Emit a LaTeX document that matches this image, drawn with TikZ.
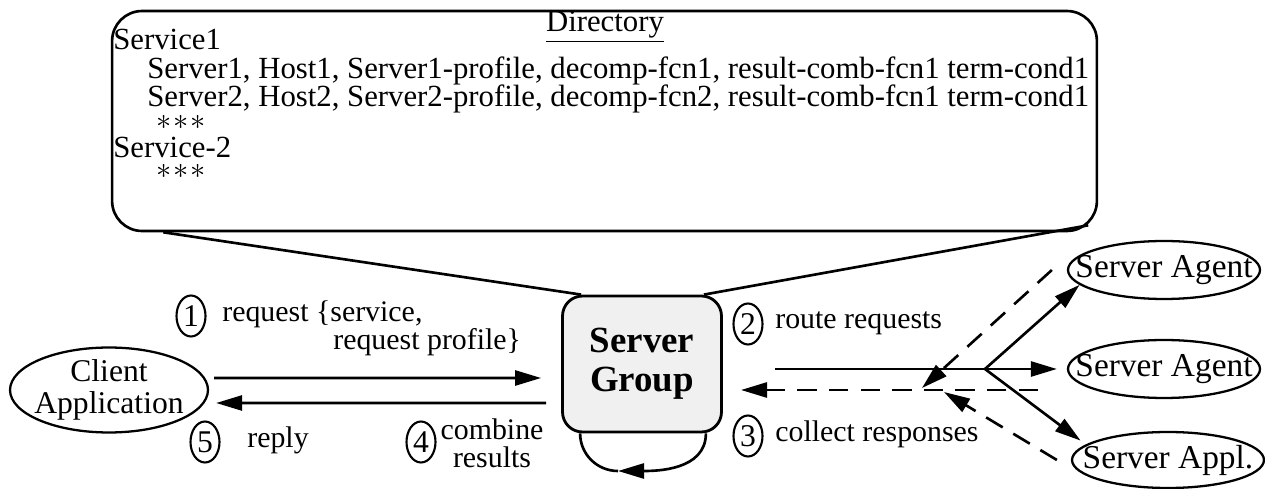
\documentclass[tikz,border=0pt]{standalone}
\usepackage{fontspec}
\setmainfont{Liberation Serif}
\usetikzlibrary{arrows.meta, shapes.geometric, positioning}

\begin{document}
\begin{tikzpicture}[x=0.02cm, y=-0.02cm]
        % Define styles
        \tikzset{
            txt/.style={font=\fontsize{17}{17}\selectfont, inner sep=0pt},
            row/.style={font=\fontsize{17.5}{17.5}\selectfont, inner sep=0pt, anchor=base west},
            num/.style={draw, ellipse, line width=1.2pt, inner sep=0pt,
                minimum width=0.58cm, minimum height=0.82cm, font=\fontsize{18}{18}\selectfont},
            actor/.style={draw, ellipse, line width=1.3pt, inner xsep=-0.5cm, inner ysep=0pt,
                align=center, font=\fontsize{19}{19}\selectfont},
            line/.style={line width=1.5pt},
            flow/.style={line, -{Triangle[length=0.52cm, width=0.3cm]}},
            back/.style={flow, dash pattern=on 11pt off 7pt}
        }
        \useasboundingbox (0,0) rectangle (1265,489);
        % Directory callout
        \node[draw, line width=1.5pt, rounded corners=0.6cm, minimum width=19.7cm,
            minimum height=4.4cm] (dir) at (604.5,121) {};
        \node[row, anchor=base] (dirtitle) at (605,32) {\underline{Directory}};
        \node[row] (svcone) at (113,50) {Service1};
        \node[row] (rowone) at (147,79) {Server1, Host1, Server1-profile, decomp-fcn1, result-comb-fcn1 term-cond1};
        \node[row] (rowtwo) at (147,107) {Server2, Host2, Server2-profile, decomp-fcn2, result-comb-fcn1 term-cond1};
        \node[row] (dotsone) at (156,130) {$\ast\!\ast\!\ast$};
        \node[row] (svctwo) at (113,158) {Service-2};
        \node[row] (dotstwo) at (156,179) {$\ast\!\ast\!\ast$};
        % Server group in the middle
        \node[draw, line width=1.6pt, rounded corners=0.4cm, fill=gray!12,
            minimum width=3.18cm, minimum height=2.72cm, align=center,
            font=\fontsize{21}{22}\bfseries] (sg) at (642,364) {Server\\Group};
        \draw[line] ([xshift=1.05cm]dir.south west) -- ([xshift=0.4cm]sg.north west);
        \draw[line] ([xshift=-0.2cm, yshift=0.14cm]dir.south east) -- ([xshift=-0.38cm]sg.north east);
        % Loop under the server group
        \coordinate (loopbot) at (618,471);
        \draw[flow] ([xshift=-0.34cm]sg.south east) to[out=-90, in=0] (loopbot);
        \draw[line] (loopbot) to[out=180, in=-90] ([xshift=0.38cm]sg.south west);
        % Client side
        \node[actor, inner ysep=-0.12cm, minimum width=3.96cm, minimum height=1.7cm,
            font=\fontsize{18}{18}\selectfont] (client) at (109,390) {Client\\Application};
        \draw[flow] ([xshift=0.1cm, yshift=0.24cm]client.east) -- ([xshift=-0.4cm, yshift=-0.28cm]sg.west);
        \draw[flow] ([xshift=-0.3cm, yshift=-0.78cm]sg.west) -- ([xshift=0.14cm, yshift=-0.26cm]client.east);
        \node[num] (one) at (191,316) {1};
        \node[txt, anchor=west] (reqa) at (222,314) {request \{service,};
        \node[txt, anchor=west] (reqb) at (333,342) {request profile\}};
        \node[num] (five) at (205,442) {5};
        \node[txt, anchor=west] (reply) at (247,440) {reply};
        \node[num] (four) at (421,442) {4};
        \node[txt] (comb) at (492,429) {combine};
        \node[txt] (res) at (492,457) {results};
        % Server agents
        \node[actor, minimum width=3.84cm, minimum height=1.16cm] (sa1) at (1164,270) {Server Agent};
        \node[actor, minimum width=3.84cm, minimum height=1.16cm] (sa2) at (1164,369) {Server Agent};
        \node[actor, minimum width=3.84cm, minimum height=1.12cm] (appl) at (1168,460) {Server Appl.};
        \node[num] (two) at (748,324) {2};
        \node[txt, anchor=west] (route) at (775,323) {route requests};
        \node[num] (three) at (748,436) {3};
        \node[txt, anchor=west] (collect) at (775,434) {collect responses};
        % Route requests out
        \coordinate (rstart) at (775,369);
        \coordinate (fork) at (985,369);
        \draw[line] (rstart) -- (fork);
        \draw[flow] (fork) -- (sa1.190);
        \draw[flow, shorten >=0.2cm] (fork) -- (sa2);
        \draw[flow] (fork) -- ([xshift=-0.3cm]appl.165);
        % Collect responses back
        \coordinate (rend) at (1038,390);
        \coordinate (rtip) at (741,390);
        \coordinate (tipa) at (922,388);
        \coordinate (tipb) at (944,392);
        \draw[back] (rend) -- (rtip);
        \draw[back] ([xshift=-0.3cm]sa1.west) -- (tipa);
        \draw[back] ([xshift=-0.28cm]appl.west) -- (tipb);
    \end{tikzpicture}
\end{document}
